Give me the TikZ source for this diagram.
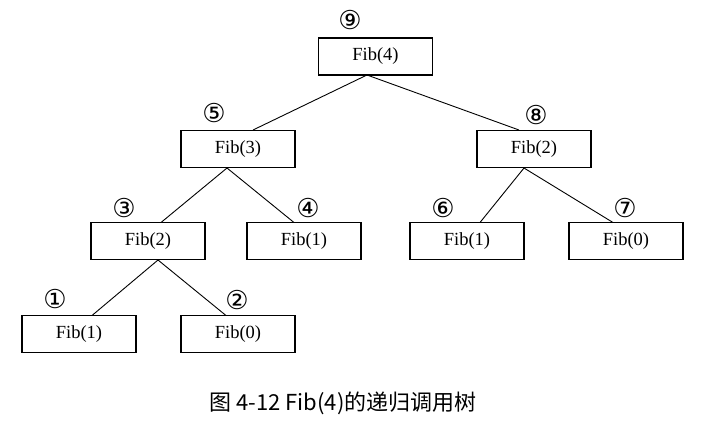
\documentclass[tikz,border=0pt]{standalone}
\usepackage{fontspec}
\setmainfont{Liberation Serif}
\newfontfamily\boxfont{Liberation Serif}
\newfontfamily\numfont{DejaVu Sans}
\newfontfamily\cjk{Noto Sans CJK SC}
\begin{document}
\begin{tikzpicture}[x=1pt,y=-1pt,
  fibbox/.style={draw,line width=1.1pt,minimum width=114pt,minimum height=37pt,inner sep=0pt,
    font=\boxfont\fontsize{18.5}{18.5}\selectfont},
  ordnum/.style={font=\numfont\fontsize{26}{26}\selectfont,inner sep=0pt},
  edge/.style={line width=0.9pt}]
\useasboundingbox (0,0) rectangle (704,440);
% boxes
\node[fibbox] (f4)  at (375.5,56.5) {Fib(4)};
\node[fibbox] (f3)  at (238,149) {Fib(3)};
\node[fibbox] (f2r) at (534,149) {Fib(2)};
\node[fibbox] (f2l) at (148,241) {Fib(2)};
\node[fibbox] (f1m) at (304,241) {Fib(1)};
\node[fibbox] (f1r) at (467,241) {Fib(1)};
\node[fibbox] (f0r) at (626,241) {Fib(0)};
\node[fibbox] (f1b) at (79,334) {Fib(1)};
\node[fibbox] (f0b) at (238,334) {Fib(0)};
% order numbers
\node[ordnum] (n9) at (350,20) {⑨};
\node[ordnum] (n5) at (214,113) {⑤};
\node[ordnum] (n8) at (536,115) {⑧};
\node[ordnum] (n3) at (124,208) {③};
\node[ordnum] (n4) at (308,208) {④};
\node[ordnum] (n6) at (443,208) {⑥};
\node[ordnum] (n7) at (625,208) {⑦};
\node[ordnum] (n1) at (55,299) {①};
\node[ordnum] (n2) at (237,300) {②};
% connectors
\coordinate (a4) at (367,75);
\coordinate (a3) at (227,168);
\coordinate (a2r) at (524,168);
\coordinate (a2l) at (158,260);
\draw[edge] (a4) -- (253,130);
\draw[edge] (a4) -- (519,130);
\draw[edge] (a3) -- (161,222.5);
\draw[edge] (a3) -- (294,222.5);
\draw[edge] (a2r) -- (480,222.5);
\draw[edge] (a2r) -- (613,222.5);
\draw[edge] (a2l) -- (92,315.5);
\draw[edge] (a2l) -- (226,315.5);
% caption
\node[font=\cjk\fontsize{22}{22}\selectfont,inner sep=0pt] (cap) at (343,403) {图 4-12 Fib(4)的递归调用树};
\end{tikzpicture}
\end{document}
